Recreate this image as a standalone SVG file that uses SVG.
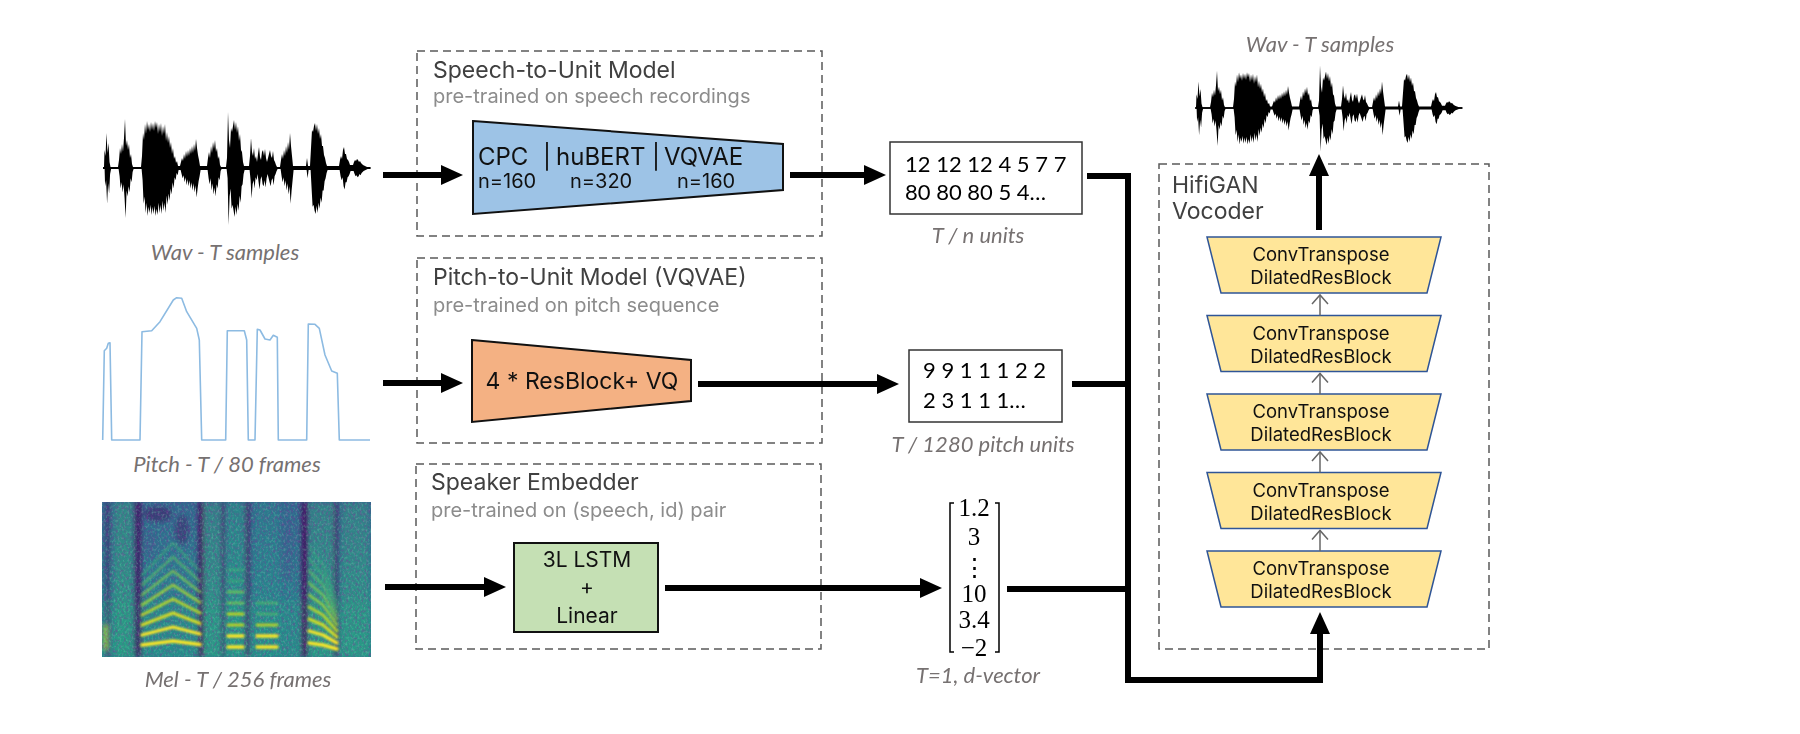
<svg xmlns="http://www.w3.org/2000/svg" width="1800" height="734" viewBox="0 0 1800 734">
<defs>
<style>
.dash{fill:none;stroke:#595959;stroke-width:1.5;stroke-dasharray:8 5}
.title{font-family:Inter,'Noto Sans',sans-serif;font-size:23px;fill:#404040}
.sub{font-family:Inter,'Noto Sans',sans-serif;font-size:20px;fill:#8c8c8c}
.lbl{font-family:Lato,'Open Sans',sans-serif;font-style:italic;font-size:22px;fill:#767171;text-anchor:middle}
.unit{font-family:Lato,'Open Sans',sans-serif;font-size:22px;fill:#000}
.blk{font-family:Inter,'Noto Sans',sans-serif;fill:#111}
.yl{font-family:Inter,'Noto Sans',sans-serif;font-size:18.5px;fill:#111;text-anchor:middle}
.ytr{fill:#ffe699;stroke:#2f5597;stroke-width:1.5}
.vec{font-family:'Liberation Serif','DejaVu Serif',serif;font-size:25px;fill:#000;text-anchor:middle}
.wave{fill:#000}
.small{fill:none;stroke:#666;stroke-width:1.5}
.harm{fill:none;stroke-linecap:round;stroke-linejoin:round}
</style>
<marker id="ah" markerUnits="userSpaceOnUse" markerWidth="22" markerHeight="20" viewBox="0 0 22 20" refX="12" refY="10" orient="auto"><path d="M0,0 L22,10 L0,20 z" fill="#000"/></marker>
<marker id="sa" markerUnits="userSpaceOnUse" markerWidth="12" markerHeight="18" viewBox="0 0 12 18" refX="10" refY="9" orient="auto"><path d="M1,1 L10,9 L1,17" fill="none" stroke="#666" stroke-width="1.5"/></marker>
<path id="wavehalf" d="M0,1 L0,-1 L1,-1 L1.5,-18 L2.5,-12 L3.5,-35 L4.5,-15 L5.5,-25 L6.5,-6 L7.5,-1 L15,-1 L16,-8 L17,-20 L18,-14 L19,-24 L20,-16 L21,-30 L22,-49 L23,-22 L24,-28 L25,-18 L26,-24 L27,-10 L28,-14 L29,-4 L30,-1 L38,-1 L39,-12 L40,-35 L41,-28 L42,-44 L43,-34 L44,-47 L45,-38 L46,-44 L47,-36 L48,-46 L49,-38 L50,-45 L51,-37 L52,-47 L53,-40 L54,-46 L55,-34 L56,-44 L57,-36 L58,-45 L59,-32 L60,-42 L61,-34 L62,-44 L63,-27 L64,-36 L65,-25 L66,-32 L67,-20 L68,-26 L69,-14 L70,-20 L71,-9 L72,-12 L73,-5 L74,-7 L75,-2 L77,-2 L78,-6 L79,-10 L80,-7 L81,-14 L82,-9 L83,-17 L84,-11 L85,-18 L86,-12 L87,-20 L88,-14 L89,-22 L90,-15 L91,-24 L92,-17 L93,-29 L94,-20 L95,-13 L96,-8 L97,-2 L104,-2 L105,-10 L106,-16 L107,-10 L108,-22 L109,-15 L110,-26 L111,-19 L112,-28 L113,-16 L114,-20 L115,-9 L116,-12 L117,-3 L118,-1 L123,-1 L124,-10 L125,-56 L126,-28 L127,-20 L128,-40 L129,-36 L130,-42 L131,-48 L132,-38 L133,-46 L134,-35 L135,-42 L136,-27 L137,-34 L138,-18 L139,-16 L140,-6 L141,-2 L146,-2 L147,-12 L148,-30 L149,-16 L150,-12 L151,-20 L152,-9 L153,-12 L154,-6 L155,-14 L156,-21 L157,-11 L158,-8 L159,-16 L160,-18 L161,-12 L162,-19 L163,-10 L164,-6 L165,-10 L166,-14 L167,-18 L168,-12 L169,-10 L170,-17 L171,-8 L172,-6 L173,-3 L174,-1 L177,-1 L178,-8 L179,-14 L180,-9 L181,-18 L182,-12 L183,-22 L184,-15 L185,-26 L186,-18 L187,-35 L188,-22 L189,-12 L190,-2 L203,-2 L204,-10 L205,-2 L207,-2 L208,-20 L209,-38 L210,-36 L211,-42 L212,-45 L213,-37 L214,-44 L215,-34 L216,-40 L217,-29 L218,-34 L219,-22 L220,-22 L221,-13 L222,-10 L223,-5 L224,-2 L236,-2 L237,-8 L238,-12 L239,-9 L240,-18 L241,-21 L242,-14 L243,-14 L244,-9 L245,-8 L246,-6 L247,-3 L250,-3 L251,-6 L252,-8 L253,-7 L254,-9 L255,-8 L256,-6 L257,-7 L258,-5 L259,-4 L260,-3 L262,-2 L264,-1 L267,-1 L267,1 Z"/>
<clipPath id="mc"><rect x="102" y="502" width="269" height="155"/></clipPath>
<linearGradient id="melg" x1="0" y1="0" x2="0" y2="1"><stop offset="0" stop-color="#31688e"/><stop offset="0.5" stop-color="#2a7b8e"/><stop offset="1" stop-color="#25878d"/></linearGradient>
<filter id="bl" x="-5%" y="-5%" width="110%" height="110%"><feGaussianBlur stdDeviation="2"/></filter>
<filter id="bl2" x="-5%" y="-5%" width="110%" height="110%"><feGaussianBlur stdDeviation="1.1"/></filter>
<filter id="nz" x="0" y="0" width="1" height="1"><feTurbulence type="fractalNoise" baseFrequency="0.45 0.3" numOctaves="2" seed="7" result="t"/><feColorMatrix in="t" type="matrix" values="0 0 0 0 0.27  0 0 0 0 0.02  0 0 0 0 0.33  1.8 0 0 0 -0.8"/></filter>
<filter id="nz2" x="0" y="0" width="1" height="1"><feTurbulence type="fractalNoise" baseFrequency="0.5 0.35" numOctaves="2" seed="21" result="t"/><feColorMatrix in="t" type="matrix" values="0 0 0 0 0.2  0 0 0 0 0.72  0 0 0 0 0.47  1.8 0 0 0 -0.85"/></filter>
</defs>
<rect width="1800" height="734" fill="#fff"/>

<!-- Input waveform -->
<g id="wav-in">
<g transform="translate(103,168)"><use href="#wavehalf" class="wave"/><use href="#wavehalf" class="wave" transform="translate(0.6,0) scale(1,-1.02)"/></g>
<text class="lbl" x="225" y="260">Wav - T samples</text>
</g>

<!-- Pitch contour -->
<g id="pitch-in">
<path d="M102.7,440 L104.3,350.7 L106.7,348.3 L108.3,343.3 L110,342.7 L111.7,440 L140,440 L142,331.7 L151.7,330.7 L160,321.7 L173.3,300 L176.7,297.7 L181.7,298.3 L186.7,311.7 L196.7,328.3 L199.3,340 L201.7,440 L225.7,440 L227.3,330.7 L244.3,330.7 L246.7,340 L248.3,440 L255,440 L257.3,329.3 L260,330 L265,339 L270,340 L273.3,335.3 L277.3,337.3 L278.3,440 L306.7,440 L308.3,324 L315,324.3 L319.3,328.3 L325,355 L331.7,371 L337.3,373.3 L339.3,440 L370,440" fill="none" stroke="#8dbbe2" stroke-width="1.6" stroke-linejoin="round"/>
<text class="lbl" x="227" y="472">Pitch - T / 80 frames</text>
</g>

<!-- Mel spectrogram -->
<g id="mel-in">
<g clip-path="url(#mc)">
<rect x="102" y="502" width="269" height="155" fill="url(#melg)"/>
<g filter="url(#bl)">
<rect x="114" y="502" width="18" height="155" fill="#35b779" opacity=".35"/>
<rect x="204" y="502" width="16" height="155" fill="#35b779" opacity=".3"/>
<rect x="227" y="502" width="17" height="155" fill="#21a585" opacity=".45"/>
<rect x="255" y="502" width="24" height="155" fill="#21918c" opacity=".4"/>
<rect x="310" y="502" width="24" height="155" fill="#35b779" opacity=".3"/>
<rect x="342" y="502" width="27" height="155" fill="#35b779" opacity=".3"/>
<rect x="102" y="600" width="269" height="57" fill="#22a884" opacity=".2"/>
<rect x="106" y="502" width="4" height="155" fill="#440154" opacity=".5"/>
<rect x="134" y="502" width="8" height="155" fill="#440154" opacity=".65"/>
<rect x="198" y="502" width="6" height="155" fill="#440154" opacity=".75"/>
<rect x="221" y="502" width="4" height="155" fill="#440154" opacity=".5"/>
<rect x="245" y="502" width="5" height="155" fill="#440154" opacity=".55"/>
<rect x="283" y="520" width="10" height="60" fill="#3b528b" opacity=".4"/>
<rect x="301" y="502" width="7" height="155" fill="#440154" opacity=".75"/>
<rect x="333" y="502" width="6" height="155" fill="#440154" opacity=".45"/>
<ellipse cx="158" cy="514" rx="14" ry="8" fill="#440154" opacity=".4"/>
<ellipse cx="182" cy="530" rx="7" ry="15" fill="#440154" opacity=".35"/>
<ellipse cx="150" cy="545" rx="6" ry="14" fill="#3b528b" opacity=".4"/>
<rect x="103" y="625" width="5" height="25" fill="#b5de2b" opacity=".7"/>
</g>
<rect x="102" y="502" width="269" height="155" filter="url(#nz)" opacity=".6"/>
<rect x="102" y="502" width="269" height="155" filter="url(#nz2)" opacity=".5"/>
<g filter="url(#bl2)" class="harm">
<path d="M142,645 L173,641 L200,644.5" stroke="#fde725" stroke-width="3.6"/>
<path d="M142,635 L173,627 L200,634" stroke="#fde725" stroke-width="3.3"/>
<path d="M142,625 L173,613 L200,623.5" stroke="#e5e419" stroke-width="3.2" opacity=".9"/>
<path d="M142,615 L173,599 L200,613" stroke="#c8e020" stroke-width="3" opacity=".85"/>
<path d="M142,605 L173,585 L200,602.5" stroke="#a8db34" stroke-width="2.8" opacity=".8"/>
<path d="M142,595 L173,571 L200,592" stroke="#86d549" stroke-width="2.6" opacity=".7"/>
<path d="M142,585 L173,557 L200,581.5" stroke="#5ec962" stroke-width="2.5" opacity=".6"/>
<path d="M142,575 L173,543 L200,571" stroke="#3fbc73" stroke-width="2.5" opacity=".5"/>
<path d="M228,647 H243 M228,636 H243" stroke="#fde725" stroke-width="3.4"/>
<path d="M228,625 H243 M228,614 H243" stroke="#d2e21b" stroke-width="3" opacity=".85"/>
<path d="M228,603 H243 M228,592 H243" stroke="#86d549" stroke-width="2.6" opacity=".7"/>
<path d="M228,581 H243 M228,570 H243" stroke="#3fbc73" stroke-width="2.5" opacity=".55"/>
<path d="M257,647 H277 M257,636 H277" stroke="#fde725" stroke-width="3.4"/>
<path d="M257,625 H277" stroke="#c8e020" stroke-width="3" opacity=".85"/>
<path d="M257,614 H277 M257,603 H277" stroke="#5ec962" stroke-width="2.5" opacity=".55"/>
<path d="M309,643 L323,645 L337,649" stroke="#fde725" stroke-width="3.4"/>
<path d="M309,631 L323,635 L337,643" stroke="#fde725" stroke-width="3.3"/>
<path d="M309,619 L323,625 L337,637" stroke="#e5e419" stroke-width="3" opacity=".9"/>
<path d="M309,607 L323,615 L337,631" stroke="#c8e020" stroke-width="3" opacity=".85"/>
<path d="M309,595 L323,605 L337,625" stroke="#a8db34" stroke-width="2.6" opacity=".8"/>
<path d="M309,583 L323,595 L337,619" stroke="#86d549" stroke-width="2.5" opacity=".7"/>
<path d="M309,571 L323,585 L337,613" stroke="#5ec962" stroke-width="2.5" opacity=".6"/>
<path d="M309,559 L323,575 L337,607" stroke="#3fbc73" stroke-width="2.5" opacity=".5"/>
<path d="M309,547 L323,565 L337,601" stroke="#35b779" stroke-width="2.5" opacity=".4"/>
</g>
</g>
<text class="lbl" x="238" y="687">Mel - T / 256 frames</text>
</g>

<!-- Speech-to-Unit -->
<g id="speech-to-unit">
<rect class="dash" x="417" y="51" width="405" height="185"/>
<text class="title" x="433" y="78">Speech-to-Unit Model</text>
<text class="sub" x="433" y="103">pre-trained on speech recordings</text>
<polygon points="473,121 783,144 783,190 473,214" fill="#9dc3e6" stroke="#111" stroke-width="2"/>
<text class="blk" y="165" font-size="24"><tspan x="478">CPC</tspan><tspan x="543">|</tspan><tspan x="556">huBERT</tspan><tspan x="652">|</tspan><tspan x="664">VQVAE</tspan></text>
<text class="blk" y="188" font-size="20"><tspan x="478">n=160</tspan><tspan x="570">n=320</tspan><tspan x="677">n=160</tspan></text>
</g>

<!-- Pitch-to-Unit -->
<g id="pitch-to-unit">
<rect class="dash" x="417" y="258" width="405" height="185"/>
<text class="title" x="433" y="285">Pitch-to-Unit Model (VQVAE)</text>
<text class="sub" x="433" y="312">pre-trained on pitch sequence</text>
<polygon points="472,340 691,360 691,401 472,422" fill="#f4b183" stroke="#111" stroke-width="2"/>
<text class="blk" x="582" y="389" font-size="23" text-anchor="middle">4 * ResBlock+ VQ</text>
</g>

<!-- Speaker Embedder -->
<g id="speaker-embedder">
<rect class="dash" x="416" y="464" width="405" height="185"/>
<text class="title" x="431" y="490">Speaker Embedder</text>
<text class="sub" x="431" y="517">pre-trained on (speech, id) pair</text>
<rect x="514" y="543" width="144" height="89" fill="#c5e0b4" stroke="#111" stroke-width="2"/>
<text class="blk" x="587" y="567" font-size="21" text-anchor="middle">3L LSTM</text>
<text class="blk" x="587" y="594" font-size="21" text-anchor="middle">+</text>
<text class="blk" x="587" y="623" font-size="21" text-anchor="middle">Linear</text>
</g>

<!-- Unit outputs -->
<g id="units">
<rect x="890" y="142" width="192" height="72" fill="#fff" stroke="#333" stroke-width="1.5"/>
<text class="unit" x="905" y="172">12 12 12 4 5 7 7</text>
<text class="unit" x="905" y="200">80 80 80 5 4…</text>
<text class="lbl" x="978" y="243">T / n units</text>
</g>
<g id="pitch-units">
<rect x="909" y="350" width="153" height="72" fill="#fff" stroke="#333" stroke-width="1.5"/>
<text class="unit" x="923" y="378">9 9 1 1 1 2 2</text>
<text class="unit" x="923" y="408">2 3 1 1 1…</text>
<text class="lbl" x="983" y="452">T / 1280 pitch units</text>
</g>
<g id="d-vector">
<path d="M954,503 H950 V652 H954 M995,503 H999 V652 H995" fill="none" stroke="#000" stroke-width="1.5"/>
<text class="vec" x="974" y="516">1.2</text>
<text class="vec" x="974" y="545">3</text>
<text class="vec" x="974" y="576" font-family="'DejaVu Serif',serif" font-size="20">⋮</text>
<text class="vec" x="974" y="602">10</text>
<text class="vec" x="974" y="628">3.4</text>
<text class="vec" x="974" y="656">−2</text>
<text class="lbl" x="978" y="683">T=1, d-vector</text>
</g>

<!-- HifiGAN -->
<g id="hifigan">
<rect class="dash" x="1159" y="164" width="330" height="485"/>
<text class="title" x="1172" y="193">HifiGAN</text>
<text class="title" x="1172" y="219">Vocoder</text>
<polygon class="ytr" points="1207,237 1441,237 1427,293 1221,293"/>
<text class="yl" x="1321" y="261">ConvTranspose</text><text class="yl" x="1321" y="284">DilatedResBlock</text>
<polygon class="ytr" points="1207,315.5 1441,315.5 1427,371.5 1221,371.5"/>
<text class="yl" x="1321" y="339.5">ConvTranspose</text><text class="yl" x="1321" y="362.5">DilatedResBlock</text>
<polygon class="ytr" points="1207,394 1441,394 1427,450 1221,450"/>
<text class="yl" x="1321" y="418">ConvTranspose</text><text class="yl" x="1321" y="441">DilatedResBlock</text>
<polygon class="ytr" points="1207,472.5 1441,472.5 1427,528.5 1221,528.5"/>
<text class="yl" x="1321" y="496.5">ConvTranspose</text><text class="yl" x="1321" y="519.5">DilatedResBlock</text>
<polygon class="ytr" points="1207,551 1441,551 1427,607 1221,607"/>
<text class="yl" x="1321" y="575">ConvTranspose</text><text class="yl" x="1321" y="598">DilatedResBlock</text>
<path class="small" d="M1320,315.5 V295" marker-end="url(#sa)"/>
<path class="small" d="M1320,394 V373.5" marker-end="url(#sa)"/>
<path class="small" d="M1320,472.5 V452" marker-end="url(#sa)"/>
<path class="small" d="M1320,551 V530.5" marker-end="url(#sa)"/>
</g>

<!-- Output waveform -->
<g id="wav-out">
<g transform="translate(1195,108) scale(1,0.76)"><use href="#wavehalf" class="wave"/><use href="#wavehalf" class="wave" transform="translate(0.6,0) scale(1,-1.02)"/></g>
<text class="lbl" x="1320" y="52">Wav - T samples</text>
</g>

<!-- Connectors -->
<g id="connectors" fill="none" stroke="#000" stroke-width="6">
<path d="M383,175 H453" marker-end="url(#ah)"/>
<path d="M790,175 H876" marker-end="url(#ah)"/>
<path d="M1087,176 H1128 V680 H1320 V622" marker-end="url(#ah)"/>
<path d="M383,383 H453" marker-end="url(#ah)"/>
<path d="M698,384 H889" marker-end="url(#ah)"/>
<path d="M1072,384 H1128"/>
<path d="M385,587 H496" marker-end="url(#ah)"/>
<path d="M665,588 H932" marker-end="url(#ah)"/>
<path d="M1007,589 H1128"/>
<path d="M1319,230 V164" marker-end="url(#ah)"/>
</g>
</svg>
